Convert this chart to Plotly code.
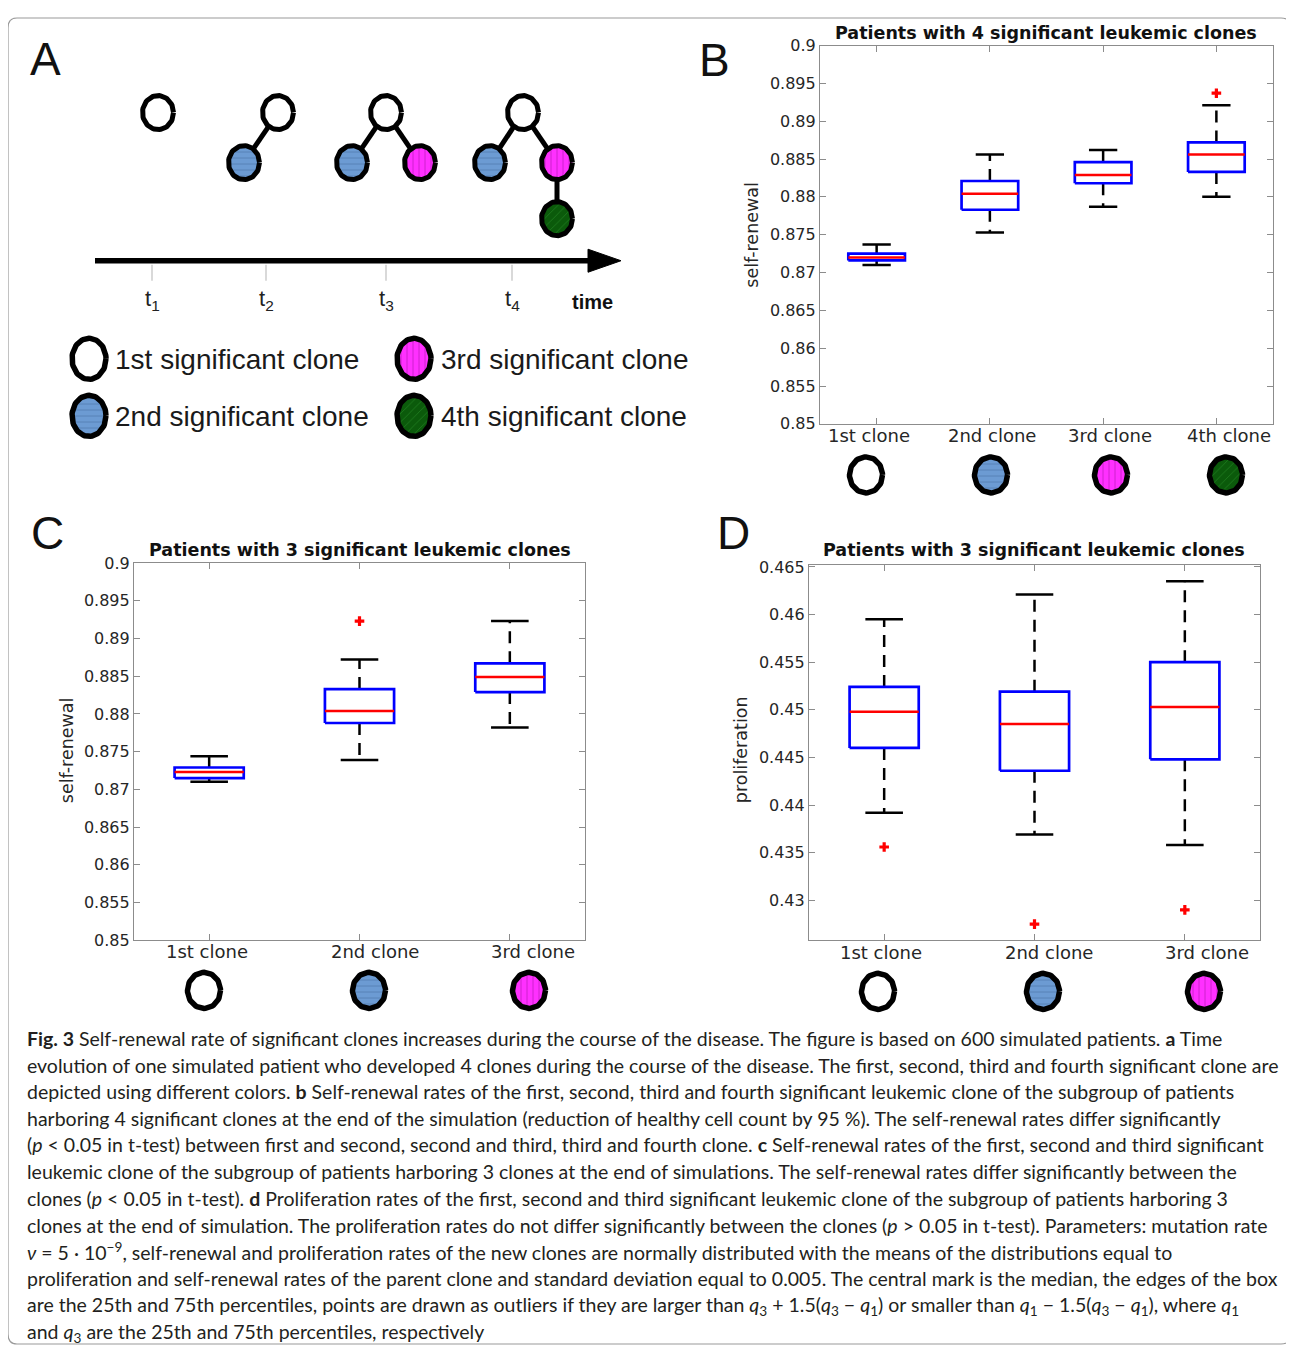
import numpy as np
import plotly.graph_objects as go

# ---------------- data ----------------
clones4 = ["1st clone", "2nd clone", "3rd clone", "4th clone"]
clones3 = ["1st clone", "2nd clone", "3rd clone"]

B_title = "Patients with 4 significant leukemic clones"
B_lower = [0.8710, 0.8753, 0.8787, 0.8800]
B_q1 = [0.8716, 0.8783, 0.8818, 0.8833]
B_med = [0.8720, 0.8804, 0.8829, 0.8856]
B_q3 = [0.8725, 0.8821, 0.8846, 0.8872]
B_upper = [0.8737, 0.8856, 0.8862, 0.8921]
B_out_clone = ["4th clone"]
B_out_val = [0.8937]

C_title = "Patients with 3 significant leukemic clones"
C_lower = [0.8710, 0.8739, 0.8782]
C_q1 = [0.8715, 0.8788, 0.8829]
C_med = [0.8723, 0.8804, 0.8849]
C_q3 = [0.8729, 0.8833, 0.8867]
C_upper = [0.8744, 0.8872, 0.8923]
C_out_clone = ["2nd clone"]
C_out_val = [0.8923]

D_title = "Patients with 3 significant leukemic clones"
D_lower = [0.4392, 0.4369, 0.4358]
D_q1 = [0.4460, 0.4436, 0.4448]
D_med = [0.4498, 0.4485, 0.4503]
D_q3 = [0.4524, 0.4519, 0.4550]
D_upper = [0.4595, 0.4621, 0.4635]
D_out_clone = ["1st clone", "2nd clone", "3rd clone"]
D_out_val = [0.4356, 0.4275, 0.4290]

sr_ticks = [0.85, 0.855, 0.86, 0.865, 0.87, 0.875, 0.88, 0.885, 0.89, 0.895, 0.9]
sr_ticktext = ["0.85", "0.855", "0.86", "0.865", "0.87", "0.875", "0.88", "0.885", "0.89", "0.895", "0.9"]
pr_ticks = [0.43, 0.435, 0.44, 0.445, 0.45, 0.455, 0.46, 0.465]
pr_ticktext = ["0.43", "0.435", "0.44", "0.445", "0.45", "0.455", "0.46", "0.465"]

legend_labels = ["1st significant clone", "2nd significant clone",
                 "3rd significant clone", "4th significant clone"]
time_labels = ["1", "2", "3", "4"]

caption_lines = [
    "<b>Fig. 3</b> Self-renewal rate of significant clones increases during the course of the disease. The figure is based on 600 simulated patients. <b>a</b> Time",
    "evolution of one simulated patient who developed 4 clones during the course of the disease. The first, second, third and fourth significant clone are",
    "depicted using different colors. <b>b</b> Self-renewal rates of the first, second, third and fourth significant leukemic clone of the subgroup of patients",
    "harboring 4 significant clones at the end of the simulation (reduction of healthy cell count by 95 %). The self-renewal rates differ significantly",
    "(<i>p</i> &lt; 0.05 in t-test) between first and second, second and third, third and fourth clone. <b>c</b> Self-renewal rates of the first, second and third significant",
    "leukemic clone of the subgroup of patients harboring 3 clones at the end of simulations. The self-renewal rates differ significantly between the",
    "clones (<i>p</i> &lt; 0.05 in t-test). <b>d</b> Proliferation rates of the first, second and third significant leukemic clone of the subgroup of patients harboring 3",
    "clones at the end of simulation. The proliferation rates do not differ significantly between the clones (<i>p</i> &gt; 0.05 in t-test). Parameters: mutation rate",
    "<i>ν</i> = 5 · 10<sup>−9</sup>, self-renewal and proliferation rates of the new clones are normally distributed with the means of the distributions equal to",
    "proliferation and self-renewal rates of the parent clone and standard deviation equal to 0.005. The central mark is the median, the edges of the box",
    "are the 25th and 75th percentiles, points are drawn as outliers if they are larger than <i>q</i><sub>3</sub> + 1.5(<i>q</i><sub>3</sub> − <i>q</i><sub>1</sub>) or smaller than <i>q</i><sub>1</sub> − 1.5(<i>q</i><sub>3</sub> − <i>q</i><sub>1</sub>), where <i>q</i><sub>1</sub>",
    "and <i>q</i><sub>3</sub> are the 25th and 75th percentiles, respectively",
]

# ---------------- geometry / style ----------------
OFFX = 8
Y0, YS = 17.5, 0.985          # observed page placement of the figure
FW, FH = 1286, 1348


def px_x(x):
    return (x - OFFX) / FW


def px_y(y):
    return 1 - ((y - Y0) / YS) / FH


CLONE_STYLE = {
    1: dict(bg="white", fg=None, shape=""),
    2: dict(bg="#6c9bd3", fg="#557fb3", shape="-"),
    3: dict(bg="#ff30ff", fg="#c81ec8", shape="|"),
    4: dict(bg="#0b5a0b", fg="#1d7a1d", shape="/"),
}

fig = go.Figure()


def add_ellipse(cx, cy, rx, ry, kind, lw=5):
    t = np.linspace(0, 2 * np.pi, 73)
    xs = list(cx + rx * np.cos(t))
    ys = list(cy + ry * np.sin(t))
    st = CLONE_STYLE[kind]
    kw = dict(x=xs, y=ys, xaxis="x4", yaxis="y4", mode="lines", fill="toself",
              fillcolor=st["bg"], line=dict(color="black", width=lw),
              hoverinfo="skip", showlegend=False)
    if st["shape"]:
        kw["fillpattern"] = dict(shape=st["shape"], bgcolor=st["bg"], fgcolor=st["fg"],
                                 size=6, solidity=0.15, fillmode="replace")
    fig.add_trace(go.Scatter(**kw))


def add_boxes(xa, ya, labels, lower, q1, med, q3, upper, out_clone, out_val, bw, cw):
    wx, wy, cx_, cy_, bx, by, mx, my = [], [], [], [], [], [], [], []
    for i in range(len(labels)):
        p = i + 1
        wx += [p, p, None, p, p, None]
        wy += [q3[i], upper[i], None, q1[i], lower[i], None]
        cx_ += [p - cw / 2, p + cw / 2, None, p - cw / 2, p + cw / 2, None]
        cy_ += [upper[i], upper[i], None, lower[i], lower[i], None]
        bx += [p - bw / 2, p + bw / 2, p + bw / 2, p - bw / 2, p - bw / 2, None]
        by += [q1[i], q1[i], q3[i], q3[i], q1[i], None]
        mx += [p - bw / 2, p + bw / 2, None]
        my += [med[i], med[i], None]
    common = dict(xaxis=xa, yaxis=ya, mode="lines", hoverinfo="skip", showlegend=False)
    fig.add_trace(go.Scatter(x=wx, y=wy, line=dict(color="black", width=2.5, dash="12px,8px"), **common))
    fig.add_trace(go.Scatter(x=cx_, y=cy_, line=dict(color="black", width=2.5), **common))
    fig.add_trace(go.Scatter(x=bx, y=by, line=dict(color="#0000ff", width=2.7), **common))
    fig.add_trace(go.Scatter(x=mx, y=my, line=dict(color="#ff0000", width=2.5), **common))
    ox = [labels.index(c) + 1 for c in out_clone]
    fig.add_trace(go.Scatter(x=ox, y=out_val, xaxis=xa, yaxis=ya, mode="markers",
                             marker=dict(symbol="cross", size=8, color="#ff0000"),
                             hoverinfo="skip", showlegend=False))


add_boxes("x", "y", clones4, B_lower, B_q1, B_med, B_q3, B_upper, B_out_clone, B_out_val, 0.5, 0.25)
add_boxes("x2", "y2", clones3, C_lower, C_q1, C_med, C_q3, C_upper, C_out_clone, C_out_val, 0.46, 0.25)
add_boxes("x3", "y3", clones3, D_lower, D_q1, D_med, D_q3, D_upper, D_out_clone, D_out_val, 0.46, 0.25)

# ---------------- panel A diagram ----------------
tree_edges = [((278, 113), (244, 163)), ((386, 113), (352, 163)), ((386, 113), (420, 163)),
              ((523, 113), (490, 163)), ((523, 113), (557, 163)), ((557, 163), (557, 219))]
ex, ey = [], []
for (a, b) in tree_edges:
    ex += [a[0], b[0], None]
    ey += [a[1], b[1], None]
fig.add_trace(go.Scatter(x=ex, y=ey, xaxis="x4", yaxis="y4", mode="lines",
                         line=dict(color="black", width=5), hoverinfo="skip", showlegend=False))

tree_nodes = [(158, 113, 1), (278, 113, 1), (244, 163, 2), (386, 113, 1), (352, 163, 2), (420, 163, 3),
              (523, 113, 1), (490, 163, 2), (557, 163, 3), (557, 219, 4)]
for (x, y, k) in tree_nodes:
    add_ellipse(x, y, 15.5, 17, k)

# time arrow
fig.add_trace(go.Scatter(x=[95, 596], y=[261, 261], xaxis="x4", yaxis="y4", mode="lines",
                         line=dict(color="black", width=5.5), hoverinfo="skip", showlegend=False))
fig.add_trace(go.Scatter(x=[588, 621, 588, 588], y=[249.5, 261, 272.5, 249.5], xaxis="x4", yaxis="y4",
                         mode="lines", fill="toself", fillcolor="black", line=dict(color="black", width=1),
                         hoverinfo="skip", showlegend=False))
tick_x = [152, 266, 386, 512]
tx, ty = [], []
for x in tick_x:
    tx += [x, x, None]
    ty += [265, 281, None]
fig.add_trace(go.Scatter(x=tx, y=ty, xaxis="x4", yaxis="y4", mode="lines",
                         line=dict(color="#c0c0c0", width=1.2), hoverinfo="skip", showlegend=False))

# legend circles of panel A
leg_pos = [(89, 359, 1), (89, 416, 2), (414, 359, 3), (414, 416, 4)]
for (x, y, k) in leg_pos:
    add_ellipse(x, y, 17, 20.5, k, lw=5.5)

# circles under the category labels
for xs, yv, n in [([866, 991, 1111, 1226], 475, 4), ([204, 369, 529], 990, 3), ([878, 1043, 1204], 991, 3)]:
    for i in range(n):
        add_ellipse(xs[i], yv, 16.5, 18, i + 1, lw=5.5)

# ---------------- layout ----------------
ax_common = dict(showline=True, linecolor="#8c8c8c", linewidth=1.2, mirror="ticks",
                 ticks="inside", ticklen=6, tickwidth=1, tickcolor="#8c8c8c",
                 showgrid=False, zeroline=False, fixedrange=True)
tickfont_y = dict(family="DejaVu Sans", size=16, color="#262626")

layout = dict(
    width=FW, height=FH, margin=dict(l=0, r=0, t=0, b=0),
    paper_bgcolor="white", plot_bgcolor="rgba(0,0,0,0)", showlegend=False,
    xaxis=dict(domain=[px_x(820), px_x(1273)], range=[0.5, 4.5], tickvals=[1, 2, 3, 4],
               ticktext=clones4, showticklabels=False, anchor="y", **ax_common),
    yaxis=dict(domain=[px_y(424), px_y(46)], range=[0.85, 0.9], tickvals=sr_ticks,
               ticktext=sr_ticktext, tickfont=tickfont_y, anchor="x", **ax_common),
    xaxis2=dict(domain=[px_x(134), px_x(585)], range=[0.5, 3.5], tickvals=[1, 2, 3],
                ticktext=clones3, showticklabels=False, anchor="y2", **ax_common),
    yaxis2=dict(domain=[px_y(940), px_y(563)], range=[0.85, 0.9], tickvals=sr_ticks,
                ticktext=sr_ticktext, tickfont=tickfont_y, anchor="x2", **ax_common),
    xaxis3=dict(domain=[px_x(809), px_x(1260)], range=[0.5, 3.5], tickvals=[1, 2, 3],
                ticktext=clones3, showticklabels=False, anchor="y3", **ax_common),
    yaxis3=dict(domain=[px_y(940), px_y(565)], range=[0.4258, 0.4652], tickvals=pr_ticks,
                ticktext=pr_ticktext, tickfont=tickfont_y, anchor="x3", **ax_common),
    xaxis4=dict(domain=[0, 1], range=[OFFX, OFFX + FW], visible=False, anchor="y4", fixedrange=True),
    yaxis4=dict(domain=[0, 1], range=[Y0 + YS * FH, Y0], visible=False, anchor="x4", fixedrange=True),
)
fig.update_layout(**layout)

ann = []


def text(x, y, s, size, family="Liberation Sans", color="#111111", xanchor="center",
         yanchor="middle", angle=0):
    ann.append(dict(x=x, y=y, xref="x4", yref="y4", text=s, showarrow=False,
                    font=dict(family=family, size=size, color=color),
                    xanchor=xanchor, yanchor=yanchor, textangle=angle))


# panel letters
text(45, 59, "A", 46)
text(714, 60, "B", 46)
text(47, 533, "C", 46)
text(733, 533, "D", 46)

# plot titles
text(1046, 33, "<b>" + B_title + "</b>", 17.5, family="DejaVu Sans", color="#111111")
text(360, 550, "<b>" + C_title + "</b>", 17.5, family="DejaVu Sans", color="#111111")
text(1034, 550, "<b>" + D_title + "</b>", 17.5, family="DejaVu Sans", color="#111111")

# category labels (placed as in the reference, slightly off the tick marks)
for xs, yv, labs in [([869, 992, 1110, 1229], 436, clones4), ([207, 375, 533], 951, clones3),
                     ([881, 1049, 1207], 952, clones3)]:
    for x, lab in zip(xs, labs):
        text(x, yv, lab, 18, family="DejaVu Sans", color="#262626")

# y-axis titles
text(752, 235, "self-renewal", 17.5, family="DejaVu Sans", color="#262626", angle=-90)
text(67, 750, "self-renewal", 17.5, family="DejaVu Sans", color="#262626", angle=-90)
text(741, 750, "proliferation", 17.5, family="DejaVu Sans", color="#262626", angle=-90)

# time labels
for x, lab in zip(tick_x, time_labels):
    text(x, 300, "t<sub>" + lab + "</sub>", 22, color="#222222")
text(592, 302, "<b>time</b>", 20, color="#111111")

# legend text
leg_text_pos = [(113, 360), (113, 417), (439, 360), (439, 417)]
for (x, y), lab in zip(leg_text_pos, legend_labels):
    text(x, y, lab, 28, xanchor="left", color="#1a1a1a")

# caption
cap_y = [1038, 1065, 1091, 1118, 1144, 1171, 1198, 1225, 1251, 1278, 1305, 1332]
for y, line in zip(cap_y, caption_lines):
    text(25, y, line, 19.5, family="Lato", color="#231f20", xanchor="left")

fig.update_layout(annotations=ann)

# outer rounded border
top_b = Y0 + 1
bot_b = Y0 + YS * FH - 2
fig.add_shape(type="path", xref="x4", yref="y4",
              path=f"M 17,{top_b} L 1281,{top_b} Q 1291,{top_b} 1291,{top_b + 10} L 1291,{bot_b - 10} "
                   f"Q 1291,{bot_b} 1281,{bot_b} L 17,{bot_b} Q 8,{bot_b} 8,{bot_b - 10} "
                   f"L 8,{top_b + 10} Q 8,{top_b} 17,{top_b} Z",
              line=dict(color="#9a9a9a", width=1.2))

fig.write_html("out.html")
